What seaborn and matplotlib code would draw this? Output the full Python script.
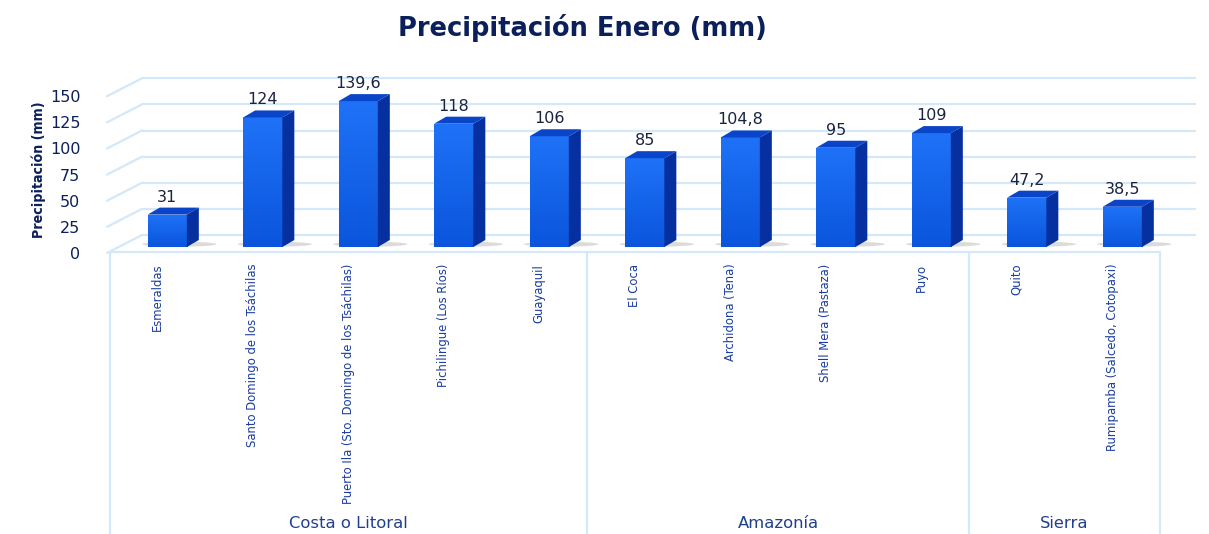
import numpy as np
import pandas as pd
import matplotlib
matplotlib.use("Agg")
import matplotlib.pyplot as plt
from matplotlib.patches import Polygon
from matplotlib.transforms import ScaledTranslation
import seaborn as sns

# --- data ---
stations = ["Esmeraldas", "Santo Domingo de los Tsáchilas",
            "Puerto Ila (Sto. Domingo de los Tsáchilas)", "Pichilingue (Los Ríos)",
            "Guayaquil", "El Coca", "Archidona (Tena)", "Shell Mera (Pastaza)",
            "Puyo", "Quito", "Rumipamba (Salcedo, Cotopaxi)"]
rain = [31, 124, 139.6, 118, 106, 85, 104.8, 95, 109, 47.2, 38.5]
regions = ["Costa o Litoral", "Costa o Litoral", "Costa o Litoral", "Costa o Litoral",
           "Costa o Litoral", "Amazonía", "Amazonía", "Amazonía", "Amazonía",
           "Sierra", "Sierra"]
yticks = [0, 25, 50, 75, 100, 125, 150]

df = pd.DataFrame({"station": stations, "rain": rain, "region": regions})

# --- style ---
sns.set_theme(style="white")
plt.rcParams["font.family"] = ["DejaVu Sans"]

navy = "#0b1f5b"
grid_c = "#d3e8f8"
front_top, front_bot = "#1f72f7", "#0a55dc"
side_c = "#0630a0"
top_c = "#0a44c8"

W, H = 1209, 534
fig = plt.figure(figsize=(W / 100, H / 100), dpi=100)
# axes: x from px 109.5 to 1160, y=0 at px 247, top at px 60
ax = fig.add_axes([109.5 / W, (H - 247) / H, 1050.5 / W, 187 / H])
px_per_unit = 1.045
ymax = 187 / px_per_unit

# 3D look parameters (pixels)
shift = 10 / 95.5        # bars sit a bit right of slot centre
dx = 12 / 95.5           # depth in x
dy = 7 / px_per_unit     # depth in y
back = 12 / px_per_unit  # back wall offset
front = 6 / px_per_unit  # front wall offset

# back wall grid lines and left wall diagonals
xb0 = (142 - 109.5) / 95.5 - 0.5
xb1 = (1195 - 109.5) / 95.5 - 0.5
xf0 = (107 - 109.5) / 95.5 - 0.5
for v in yticks:
    ax.plot([xb0, xb1], [v + back, v + back], color=grid_c, lw=1.6,
            clip_on=False, zorder=0)
    ax.plot([xf0, xb0], [v - front, v + back], color=grid_c, lw=1.6,
            clip_on=False, zorder=0)

# bars via seaborn
sns.barplot(data=df, x="station", y="rain", width=0.41, color=front_bot,
            ax=ax, zorder=2, saturation=1)

grad = np.linspace(0, 1, 256).reshape(-1, 1)
cmap = matplotlib.colors.LinearSegmentedColormap.from_list("f", [front_bot, front_top])
for p, val in zip(list(ax.patches), rain):
    p.set_x(p.get_x() + shift)
    x0 = p.get_x()
    x1 = x0 + p.get_width()
    h = p.get_height()
    p.set_edgecolor("none")
    # soft floor shadow behind the bar
    ax.add_patch(matplotlib.patches.Ellipse(((x0 + x1) / 2 + dx, dy * 0.4),
                 (x1 - x0) * 1.9, 5 / px_per_unit, facecolor="#9a9a9a",
                 alpha=0.35, edgecolor="none", zorder=1.5, clip_on=False))
    im = ax.imshow(grad, extent=[x0, x1, 0, h], origin="lower", cmap=cmap,
                   aspect="auto", zorder=2.1)
    im.set_clip_path(p)
    side = Polygon([(x1, 0), (x1 + dx, dy), (x1 + dx, h + dy), (x1, h)],
                   closed=True, facecolor=side_c, edgecolor="none", zorder=2.2)
    top = Polygon([(x0, h), (x1, h), (x1 + dx, h + dy), (x0 + dx, h + dy)],
                  closed=True, facecolor=top_c, edgecolor="none", zorder=2.2)
    ax.add_patch(side)
    ax.add_patch(top)
    lab = f"{val:g}".replace(".", ",")
    ax.text((x0 + x1) / 2, h + dy + 3 / px_per_unit, lab, ha="center",
            va="bottom", fontsize=11.5, color="#1a2440", zorder=3)
ax.set_xlim(-0.5, 10.5)
ax.set_ylim(0, ymax)

# axis ticks
ax.set_yticks(yticks)
ax.set_yticklabels([str(t) for t in yticks], fontsize=11.5, color=navy)
ax.tick_params(axis="y", length=0, pad=21)
off = ScaledTranslation(0, -6 / 100, fig.dpi_scale_trans)
for t in ax.get_yticklabels():
    t.set_transform(t.get_transform() + off)

ax.set_xticks(range(len(stations)))
ax.set_xticklabels(stations, rotation=90, va="top", ha="center",
                   fontsize=9.3, color="#1a3d9e", fontstretch="condensed")
ax.tick_params(axis="x", length=0, pad=12)
ax.set_xlabel("")
ax.set_ylabel("")
for s in ax.spines.values():
    s.set_visible(False)

# category box under the axis
xt = ax.get_xaxis_transform()
ybox = -5 / 187
ax.plot([-0.5, 10.5], [ybox, ybox], color=grid_c, lw=1.6, transform=xt,
        clip_on=False)
bounds = [-0.5, 4.5, 8.5, 10.5]
ax.vlines(bounds, -1.6, ybox, colors=grid_c, lw=1.6, transform=xt,
          clip_on=False)
ygrp = -(524 - 247) / 187
for name in ["Costa o Litoral", "Amazonía", "Sierra"]:
    idx = [i for i, r in enumerate(regions) if r == name]
    ax.text((idx[0] + idx[-1]) / 2, ygrp, name, transform=xt, ha="center",
            va="center", fontsize=11.8, color="#1f3f8f")

# titles
fig.text(582 / W, 1 - 28 / H, "Precipitación Enero (mm)", ha="center",
         va="center", fontsize=18.5, fontweight="bold", color=navy)
fig.text(39 / W, 1 - 170 / H, "Precipitación (mm)", rotation=90, ha="center",
         va="center", fontsize=10.2, fontweight="bold", color=navy,
         fontstretch="condensed")

fig.savefig("out.png", dpi=100)
